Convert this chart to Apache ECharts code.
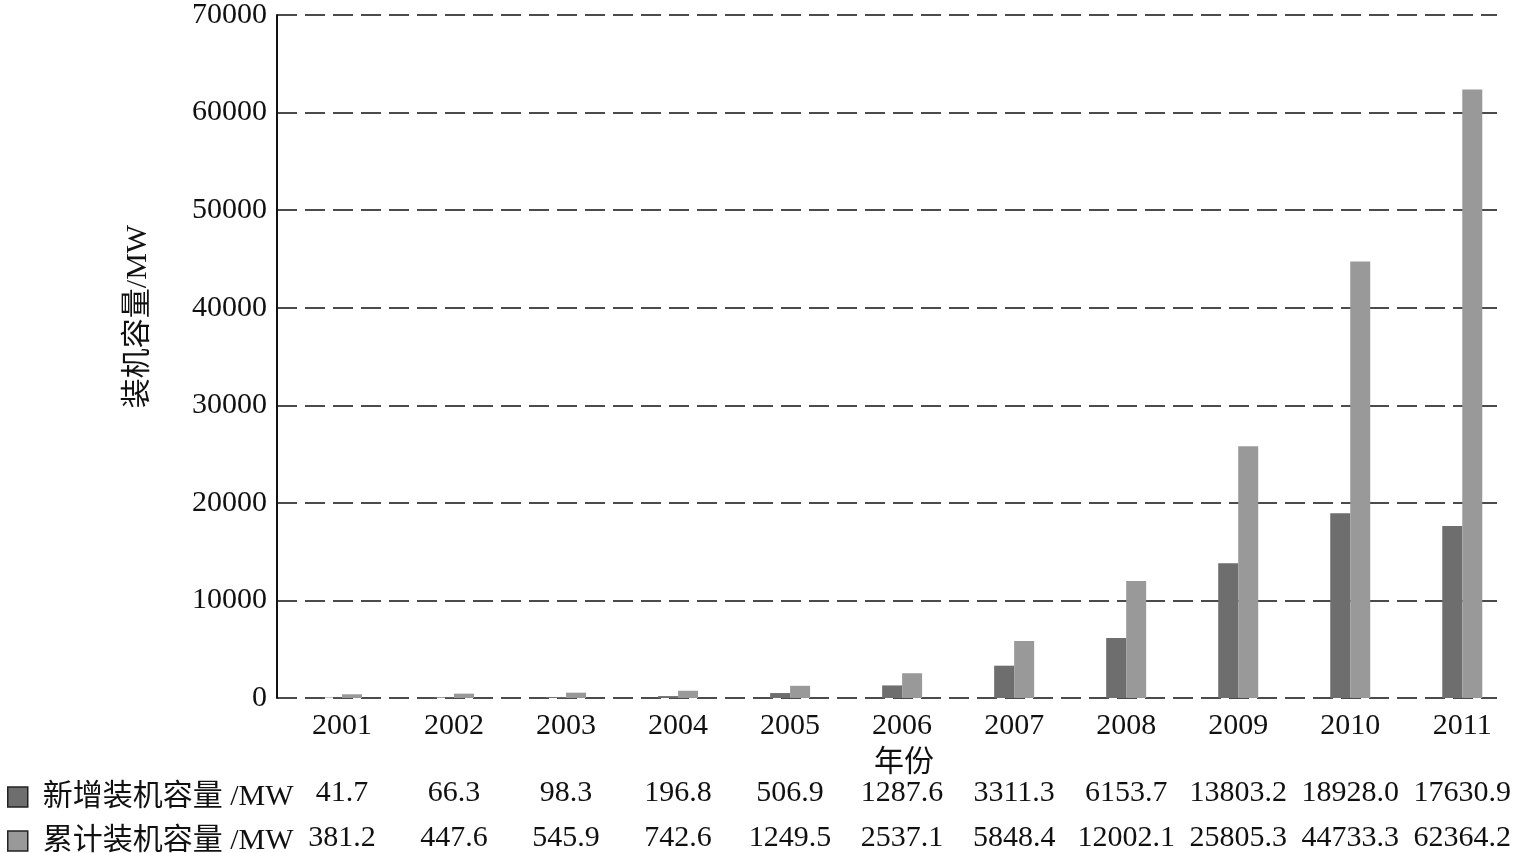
<!DOCTYPE html>
<html>
<head>
<meta charset="utf-8">
<script src="https://cdn.jsdelivr.net/npm/echarts@6/dist/echarts.min.js"></script>
<style>
html,body{margin:0;padding:0;background:#fff;}
#main{width:1515px;height:853px;}
</style>
</head>
<body>
<div id="main"></div>
<script>
var years = [2001, 2002, 2003, 2004, 2005, 2006, 2007, 2008, 2009, 2010, 2011];
var addedCapacity = [41.7, 66.3, 98.3, 196.8, 506.9, 1287.6, 3311.3, 6153.7, 13803.2, 18928.0, 17630.9];
var cumulativeCapacity = [381.2, 447.6, 545.9, 742.6, 1249.5, 2537.1, 5848.4, 12002.1, 25805.3, 44733.3, 62364.2];
var seriesNames = ['新增装机容量/MW', '累计装机容量/MW'];
var yTicks = [0, 10000, 20000, 30000, 40000, 50000, 60000, 70000];

var FONT = "'Liberation Serif', 'Noto Sans CJK SC', serif";
var chart = echarts.init(document.getElementById('main'), null, {renderer: 'canvas'});

function rowAxis(values, margin) {
  return {
    type: 'value', gridIndex: 0, position: 'bottom',
    min: 2000.42, max: 2011.31,
    axisLine: {show: false}, axisTick: {show: false}, splitLine: {show: false},
    axisLabel: {
      customValues: years, margin: margin, color: '#111', fontSize: 30, fontFamily: FONT,
      formatter: function (v) { var i = years.indexOf(Math.round(v)); return i < 0 ? '' : values[i].toFixed(1); }
    }
  };
}

function legendRow(name, top) {
  return {
    data: [name], orient: 'vertical', left: 2, top: top,
    icon: 'rect', itemWidth: 20, itemHeight: 20,
    selectedMode: false,
    formatter: function (n) { return n.replace('/', ' /'); },
    textStyle: {fontSize: 30, color: '#111', fontFamily: FONT, padding: [0, 0, 0, 10]},
    itemStyle: {borderColor: '#222', borderWidth: 1.5}
  };
}

var option = {
  backgroundColor: '#fff',
  animation: false,
  textStyle: {fontFamily: FONT},
  grid: {left: 277, right: 18, top: 8, bottom: 154, containLabel: false},
  legend: [legendRow(seriesNames[0], 777), legendRow(seriesNames[1], 821)],
  xAxis: [
    {
      type: 'value', min: 2000.42, max: 2011.31,
      name: '年份', nameLocation: 'middle', nameGap: 50,
      nameTextStyle: {fontSize: 30, color: '#111', fontFamily: FONT, padding: [0, 0, 0, 34]},
      axisLine: {show: false}, axisTick: {show: false}, splitLine: {show: false},
      axisLabel: {customValues: years, margin: 13, color: '#111', fontSize: 30, fontFamily: FONT,
        formatter: function (v) { return String(Math.round(v)); }}
    },
    rowAxis(addedCapacity, 80),
    rowAxis(cumulativeCapacity, 125)
  ],
  yAxis: {
    type: 'value', min: 0, max: 70000, interval: 10000,
    name: '装机容量/MW', nameLocation: 'middle', nameGap: 124,
    nameTextStyle: {fontSize: 30, color: '#111', fontFamily: FONT, padding: [0, 0, 0, 80]},
    axisLine: {show: true, lineStyle: {color: '#111', width: 2}},
    axisTick: {show: false},
    axisLabel: {margin: 10, color: '#111', fontSize: 30, fontFamily: FONT,
      customValues: yTicks, formatter: function (v) { return String(v); }},
    splitLine: {show: true, lineStyle: {color: '#111', width: 1.6, type: [20, 8]}}
  },
  series: [
    {
      name: seriesNames[0], type: 'bar', xAxisIndex: 0,
      barWidth: 20, barGap: '0%',
      itemStyle: {color: '#6e6e6e'},
      data: years.map(function (y, i) { return [y, addedCapacity[i]]; })
    },
    {
      name: seriesNames[1], type: 'bar', xAxisIndex: 0,
      barWidth: 20, barGap: '0%',
      itemStyle: {color: '#999999'},
      data: years.map(function (y, i) { return [y, cumulativeCapacity[i]]; })
    }
  ]
};
chart.setOption(option);
</script>
</body>
</html>
